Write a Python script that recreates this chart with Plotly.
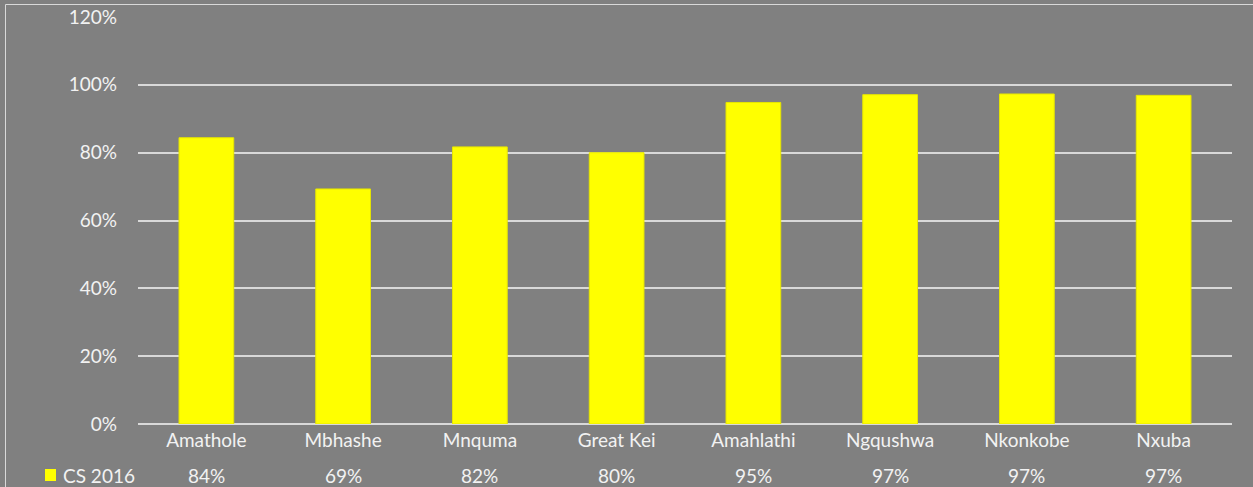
import plotly.graph_objects as go

# Municipalities and CS 2016 shares
municipalities = ["Amathole", "Mbhashe", "Mnquma", "Great Kei",
                  "Amahlathi", "Ngqushwa", "Nkonkobe", "Nxuba"]
cs_2016 = [0.844, 0.693, 0.817, 0.800, 0.948, 0.971, 0.973, 0.969]
series_name = "CS 2016"
y_ticks = [0, 0.2, 0.4, 0.6, 0.8, 1.0, 1.2]

W, H = 1253, 487
ML, MR, MT, MB = 138, 21, 17, 63
BG = "#808080"
GRID = "#d9d9d9"
TXT = "#f2f2f2"
BAR = "#ffff00"
FONT = "Lato, Open Sans, sans-serif"
FS = 19

pw, ph = W - ML - MR, H - MT - MB


def px_x(x):
    return (x - ML) / pw


def px_y(y):
    return (H - MB - y) / ph


fig = go.Figure()
fig.add_trace(go.Bar(
    x=municipalities, y=cs_2016, name=series_name,
    marker=dict(color=BAR, line=dict(color="#e6e600", width=1)),
    width=0.4, showlegend=False,
))

# Data-table row of values beneath the category labels
for m, v in zip(municipalities, cs_2016):
    fig.add_annotation(x=m, xref="x", y=0, yref="paper", yshift=-51,
                       yanchor="middle", text=f"{v:.0%}", showarrow=False,
                       font=dict(family=FONT, size=FS, color=TXT))

# Series key for the data-table row
fig.add_shape(type="rect", xref="paper", yref="paper",
              x0=px_x(45), x1=px_x(56), y0=px_y(481), y1=px_y(469),
              fillcolor=BAR, line=dict(width=0))
fig.add_annotation(x=px_x(61), xref="paper", y=0, yref="paper",
                   yshift=-51, xanchor="left", yanchor="middle",
                   text=series_name, showarrow=False,
                   font=dict(family=FONT, size=FS, color=TXT))

# Light frame around the chart area (runs off the right and bottom edges)
fig.add_shape(type="rect", xref="paper", yref="paper", layer="below",
              x0=px_x(5.5), x1=px_x(W + 10),
              y0=px_y(H + 10), y1=px_y(4.5),
              line=dict(color="#d9d9d9", width=1), fillcolor="rgba(0,0,0,0)")

fig.update_layout(
    width=W, height=H,
    margin=dict(l=ML, r=MR, t=MT, b=MB, autoexpand=False),
    paper_bgcolor=BG, plot_bgcolor=BG,
    font=dict(family=FONT, size=FS, color=TXT),
    showlegend=False,
    xaxis=dict(showgrid=False, showline=False, ticks="",
               tickfont=dict(size=FS, color=TXT), automargin=False,
               ticklabelstandoff=3),
    yaxis=dict(range=[0, 1.2], tickvals=y_ticks, tickformat=".0%",
               showgrid=True, gridcolor=GRID, gridwidth=1.5,
               zeroline=True, zerolinecolor=GRID, zerolinewidth=1.5,
               showline=False, ticks="", automargin=False,
               tickfont=dict(size=FS, color=TXT), ticklabelstandoff=20),
)

fig.write_html("out.html")
